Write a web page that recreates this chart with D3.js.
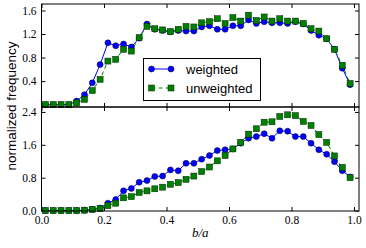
<!DOCTYPE html>
<html>
<head>
<meta charset="utf-8">
<script src="https://cdn.jsdelivr.net/npm/d3@7"></script>
<style>
  body { margin: 0; background: #fff; }
  .tick text { font-family: "Liberation Serif", serif; font-size: 11.5px; fill: #000; }
  .tick line { stroke: #000; }
  .domain { display: none; }
</style>
</head>
<body>
<svg id="chart" width="366" height="248"></svg>
<script>
// bin centres of b/a (40 bins of width 0.025)
const binCenters = d3.range(40).map(i => 0.0125 + 0.025 * i);

// top panel
const topWeighted = [0, 0, 0, 0, 0.06, 0.17, 0.37, 0.68, 1.05, 1.0,
  1.03, 0.98, 1.13, 1.37, 1.28, 1.26, 1.24, 1.26, 1.25, 1.25,
  1.32, 1.34, 1.28, 1.28, 1.34, 1.34, 1.44, 1.38, 1.41, 1.39,
  1.39, 1.38, 1.41, 1.37, 1.26, 1.18, 1.12, 0.94, 0.62, 0.34];
const topUnweighted = [0, 0, 0, 0, 0.03, 0.09, 0.24, 0.43, 0.74, 0.77,
  0.94, 0.91, 1.14, 1.33, 1.29, 1.27, 1.24, 1.28, 1.33, 1.32,
  1.39, 1.41, 1.46, 1.38, 1.48, 1.42, 1.52, 1.43, 1.49, 1.42,
  1.46, 1.42, 1.42, 1.38, 1.29, 1.25, 1.12, 0.94, 0.67, 0.36];

// bottom panel
const bottomWeighted = [0, 0, 0, 0, 0, 0.01, 0.03, 0.06, 0.18, 0.27,
  0.48, 0.54, 0.69, 0.73, 0.83, 0.84, 0.99, 0.97, 1.15, 1.15,
  1.25, 1.34, 1.46, 1.48, 1.5, 1.64, 1.76, 1.8, 1.87, 1.76,
  1.94, 1.93, 1.8, 1.8, 1.64, 1.48, 1.37, 1.19, 0.97, 0.82];
const bottomUnweighted = [0, 0, 0, 0, 0, 0.01, 0.03, 0.05, 0.12, 0.18,
  0.31, 0.34, 0.44, 0.48, 0.53, 0.57, 0.64, 0.68, 0.76, 0.84,
  0.95, 1.06, 1.21, 1.34, 1.5, 1.66, 1.86, 1.99, 2.15, 2.16,
  2.29, 2.33, 2.31, 2.17, 2.07, 1.85, 1.66, 1.33, 1.05, 0.8];

const xTicks = [0, 0.2, 0.4, 0.6, 0.8, 1.0];
const topYTicks = [0.4, 0.8, 1.2, 1.6];
const bottomYTicks = [0, 0.8, 1.6, 2.4];
const seriesNames = ["weighted", "unweighted"];

const blue = "#0000ff", green = "#008000";
const svg = d3.select("#chart");

const padL = 41.5, padR = 359, padT = 4, padM = 107, padB = 211;
const x = d3.scaleLinear().domain([0, 1.016]).range([padL, padR]);

const panels = [
  { w: topWeighted, u: topUnweighted, ticks: topYTicks,
    y: d3.scaleLinear().domain([-0.04, 1.71]).range([padM, padT]), y0: padT, y1: padM },
  { w: bottomWeighted, u: bottomUnweighted, ticks: bottomYTicks,
    y: d3.scaleLinear().domain([-0.01, 2.52]).range([padB, padM]), y0: padM, y1: padB }
];

function drawCircle(g, px, py) {
  g.append("circle").attr("cx", px).attr("cy", py).attr("r", 3)
    .attr("fill", blue).attr("stroke", "#000033").attr("stroke-width", 0.5);
}
function drawSquare(g, px, py) {
  g.append("rect").attr("x", px - 3).attr("y", py - 3).attr("width", 6).attr("height", 6)
    .attr("fill", green).attr("stroke", "#002200").attr("stroke-width", 0.5);
}

panels.forEach((p, pi) => {
  const g = svg.append("g");
  const tk = 4;

  // ticks, all inward
  g.append("g").attr("transform", `translate(0,${p.y1})`)
    .call(d3.axisBottom(x).tickValues(xTicks).tickSize(-tk)
      .tickFormat(pi === 1 ? d3.format(".1f") : "").tickPadding(5));
  g.append("g").attr("transform", `translate(0,${p.y0})`)
    .call(d3.axisTop(x).tickValues(xTicks).tickSize(-tk).tickFormat(""));
  g.append("g").attr("transform", `translate(${padL},0)`)
    .call(d3.axisLeft(p.y).tickValues(p.ticks).tickSize(-tk)
      .tickFormat(d3.format(".1f")).tickPadding(5));
  g.append("g").attr("transform", `translate(${padR},0)`)
    .call(d3.axisRight(p.y).tickValues(p.ticks).tickSize(-tk).tickFormat(""));

  // series lines
  const line = d3.line().x((d, i) => x(binCenters[i])).y(d => p.y(d));
  g.append("path").datum(p.w).attr("d", line)
    .attr("fill", "none").attr("stroke", blue).attr("stroke-width", 1);
  g.append("path").datum(p.u).attr("d", line)
    .attr("fill", "none").attr("stroke", green).attr("stroke-width", 1)
    .attr("stroke-dasharray", "4,3");

  p.w.forEach((d, i) => drawCircle(g, x(binCenters[i]), p.y(d)));
  p.u.forEach((d, i) => drawSquare(g, x(binCenters[i]), p.y(d)));

  // frame
  g.append("rect").attr("x", padL).attr("y", p.y0)
    .attr("width", padR - padL).attr("height", p.y1 - p.y0)
    .attr("fill", "none").attr("stroke", "#000").attr("stroke-width", 1);
});

// legend
const lg = svg.append("g");
lg.append("rect").attr("x", 143.5).attr("y", 58.5).attr("width", 117).attr("height", 42)
  .attr("fill", "#fff").attr("stroke", "#000").attr("stroke-width", 1);
seriesNames.forEach((name, i) => {
  const ry = 69 + i * 19;
  lg.append("line").attr("x1", 151.5).attr("x2", 171).attr("y1", ry).attr("y2", ry)
    .attr("stroke", i === 0 ? blue : green).attr("stroke-width", 1)
    .attr("stroke-dasharray", i === 0 ? null : "4,3");
  [151.5, 171].forEach(lx => i === 0 ? drawCircle(lg, lx, ry) : drawSquare(lg, lx, ry));
  lg.append("text").attr("x", 186).attr("y", ry + 4.5)
    .attr("font-family", "Liberation Sans, Arial, sans-serif").attr("font-size", 13)
    .text(name);
});

// axis labels
svg.append("text").attr("transform", "translate(16,106) rotate(-90)")
  .attr("text-anchor", "middle")
  .attr("font-family", "Liberation Sans, Arial, sans-serif").attr("font-size", 13.5)
  .text("normalized frequency");
svg.append("text").attr("x", (padL + padR) / 2).attr("y", 237)
  .attr("text-anchor", "middle")
  .attr("font-family", "Liberation Serif, serif").attr("font-style", "italic")
  .attr("font-size", 13)
  .text("b/a");
</script>
</body>
</html>
